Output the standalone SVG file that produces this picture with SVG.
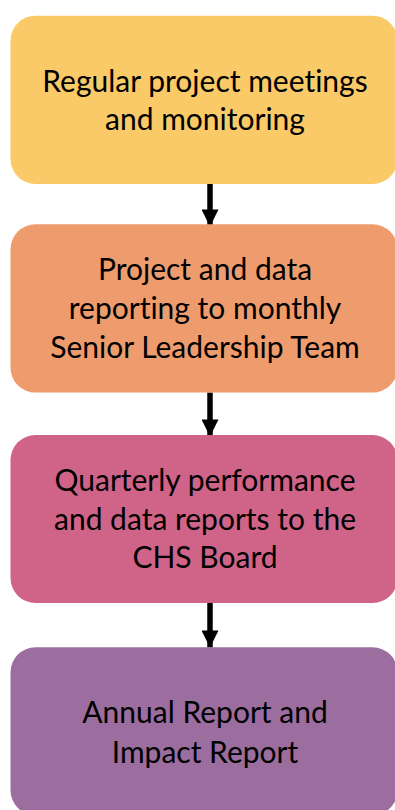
<svg xmlns="http://www.w3.org/2000/svg" width="395" height="810" viewBox="0 0 395 810">
<defs>
<style>
.box{stroke:none}
.t{font-family:Lato,"Open Sans","Liberation Sans",sans-serif;font-size:30px;fill:#000;text-anchor:middle;font-variant-ligatures:none;font-feature-settings:"liga" 0,"dlig" 0}
.shaft{stroke:#000;stroke-width:5.5;fill:none}
</style>
<marker id="ah" markerUnits="userSpaceOnUse" markerWidth="20" markerHeight="17" refX="19" refY="9.5" orient="auto" viewBox="0 0 19 19">
<path d="M0,0 L19,9.5 L0,19 Z" fill="#000"/>
</marker>
</defs>
<rect width="395" height="810" fill="#fff"/>
<g id="connectors">
<line class="shaft" x1="210" y1="184" x2="210" y2="226.5" marker-end="url(#ah)"/>
<line class="shaft" x1="210" y1="392.5" x2="210" y2="436.5" marker-end="url(#ah)"/>
<line class="shaft" x1="210" y1="603" x2="210" y2="647.5" marker-end="url(#ah)"/>
</g>
<g id="n1">
<rect class="box" x="10.5" y="15.7" width="387" height="168.3" rx="25" fill="#F9CA67"/>
<text class="t" x="205" y="91.7">Regular project meetings</text>
<text class="t" x="205" y="130">and monitoring</text>
</g>
<g id="n2">
<rect class="box" x="10.5" y="224.3" width="387" height="168.3" rx="25" fill="#EE9C6D"/>
<text class="t" x="205" y="280">Project and data</text>
<text class="t" x="205" y="318.5">reporting to monthly</text>
<text class="t" x="205" y="358">Senior Leadership Team</text>
</g>
<g id="n3">
<rect class="box" x="10.5" y="435" width="387" height="168" rx="25" fill="#D06388"/>
<text class="t" x="205" y="491">Quarterly performance</text>
<text class="t" x="205" y="529.5">and data reports to the</text>
<text class="t" x="205" y="568">CHS Board</text>
</g>
<g id="n4">
<rect class="box" x="10.5" y="647.3" width="387" height="168" rx="25" fill="#9B6E9F"/>
<text class="t" x="205" y="723.3">Annual Report and</text>
<text class="t" x="205" y="762.5">Impact Report</text>
</g>
</svg>
